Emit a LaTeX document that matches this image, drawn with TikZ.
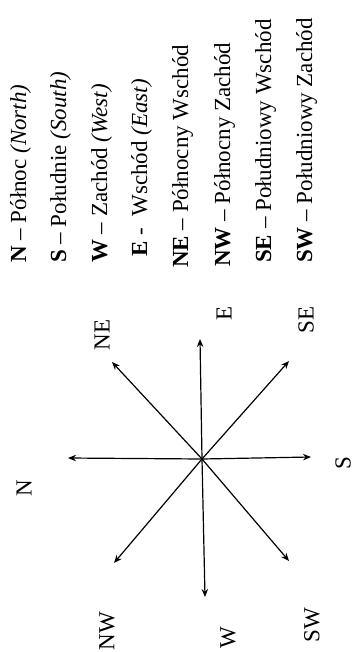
\documentclass[tikz,border=0pt]{standalone}
\usepackage{fontspec}
\setmainfont{Liberation Serif}
\usetikzlibrary{arrows.meta}
\tikzset{
  ar/.style={-{Stealth[length=8pt,width=6.5pt]},line width=1.2pt,black},
  lbl/.style={font=\fontsize{23}{27}\selectfont,rotate=90,inner sep=0pt},
  leg/.style={lbl,anchor=base west}
}
\begin{document}
\begin{tikzpicture}[x=1pt,y=-1pt]
\useasboundingbox (0,0) rectangle (356,652);
% compass, drawn turned on its side
\coordinate (O) at (202,459);
\coordinate (tN) at (68,458);
\coordinate (tS) at (311,457);
\coordinate (tE) at (200,339);
\coordinate (tW) at (205,597);
\coordinate (tNE) at (112,362);
\coordinate (tSE) at (289,361);
\coordinate (tNW) at (114,563);
\coordinate (tSW) at (289,561);
\foreach \t in {tN,tS,tE,tW,tNE,tSE,tNW,tSW}
  \draw[ar] (O) -- (\t);
\node[lbl] (lN) at (24,488) {N};
\node[lbl] (lS) at (343,463) {S};
\node[lbl] (lE) at (224,313) {E};
\node[lbl] (lW) at (228,638) {W};
\node[lbl] (lNE) at (102,335) {NE};
\node[lbl] (lSE) at (306,320) {SE};
\node[lbl] (lNW) at (107,631) {NW};
\node[lbl] (lSW) at (312,625) {SW};
% legend
\node[leg] (gN) at (26,263) {\textbf{N} -- Północ \textit{(North)}};
\node[leg] (gS) at (66,263) {\textbf{S} -- Południe \textit{(South)}};
\node[leg] (gW) at (107,263) {\textbf{W} -- Zachód \textit{(West)}};
\node[leg] (gE) at (147,257) {\textbf{E} - \ Wschód \textit{(East)}};
\node[leg] (gNE) at (188,268) {\textbf{NE} -- Północny Wschód};
\node[leg] (gNW) at (230,267) {\textbf{NW} -- Północny Zachód};
\node[leg] (gSE) at (271,263) {\textbf{SE} -- Południowy Wschód};
\node[leg] (gSW) at (312,263) {\textbf{SW} -- Południowy Zachód};
\end{tikzpicture}
\end{document}
